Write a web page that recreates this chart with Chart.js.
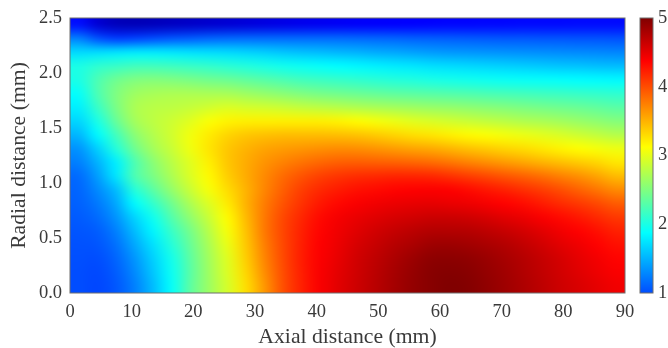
<!DOCTYPE html>
<html lang="en">
<head>
<meta charset="utf-8">
<title>Axial and radial distance map</title>
<script src="https://cdn.jsdelivr.net/npm/chart.js"></script>
<style>
  html, body { margin: 0; padding: 0; background: #fff; }
  canvas { display: block; }
</style>
</head>
<body>
<canvas id="myChart" width="668" height="348"></canvas>
<script>
// cell centres
var axial = [1.5,4.5,7.5,10.5,13.5,16.5,19.5,22.5,25.5,28.5,31.5,34.5,37.5,40.5,43.5,46.5,49.5,52.5,55.5,58.5,61.5,64.5,67.5,70.5,73.5,76.5,79.5,82.5,85.5,88.5];
var radial = [2.4375,2.3125,2.1875,2.0625,1.9375,1.8125,1.6875,1.5625,1.4375,1.3125,1.1875,1.0625,0.9375,0.8125,0.6875,0.5625,0.4375,0.3125,0.1875,0.0625];

// one row per radial distance, top of the plot first
var r2438 = [.70,.42,.30,.28,.30,.33,.36,.39,.42,.45,.48,.51,.54,.56,.58,.60,.61,.62,.63,.64,.65,.65,.66,.66,.67,.67,.67,.68,.68,.68];
var r2313 = [1.25,1.02,.92,.95,1.00,1.05,1.08,1.12,1.14,1.15,1.15,1.15,1.15,1.15,1.15,1.14,1.13,1.12,1.10,1.09,1.08,1.07,1.06,1.05,1.05,1.04,1.04,1.03,1.03,1.02];
var r2188 = [1.70,1.72,1.75,1.78,1.78,1.76,1.74,1.72,1.70,1.67,1.64,1.60,1.57,1.55,1.52,1.50,1.47,1.45,1.42,1.39,1.37,1.36,1.35,1.34,1.33,1.32,1.31,1.30,1.29,1.28];
var r2063 = [2.00,2.10,2.15,2.20,2.20,2.18,2.15,2.12,2.08,2.04,2.00,1.96,1.93,1.90,1.87,1.84,1.81,1.78,1.76,1.73,1.71,1.69,1.67,1.65,1.63,1.61,1.59,1.58,1.56,1.55];
var r1938 = [2.00,2.25,2.42,2.50,2.52,2.50,2.47,2.43,2.40,2.35,2.30,2.25,2.20,2.17,2.14,2.11,2.08,2.05,2.03,2.00,1.98,1.96,1.94,1.92,1.91,1.90,1.89,1.87,1.86,1.85];
var r1813 = [1.90,2.25,2.50,2.65,2.70,2.72,2.72,2.71,2.70,2.65,2.60,2.55,2.50,2.46,2.43,2.40,2.37,2.34,2.32,2.30,2.28,2.26,2.24,2.22,2.20,2.18,2.16,2.14,2.12,2.10];
var r1688 = [1.80,2.15,2.48,2.72,2.78,2.80,2.84,2.90,2.95,2.92,2.90,2.87,2.83,2.80,2.77,2.74,2.71,2.68,2.65,2.62,2.60,2.57,2.54,2.51,2.48,2.45,2.42,2.39,2.35,2.31];
var r1563 = [1.68,2.00,2.38,2.68,2.80,2.88,2.98,3.10,3.18,3.20,3.20,3.20,3.20,3.20,3.18,3.14,3.08,3.03,2.98,2.94,2.90,2.86,2.82,2.78,2.74,2.71,2.67,2.62,2.57,2.52];
var r1438 = [1.52,1.85,2.20,2.55,2.75,2.90,3.06,3.22,3.33,3.40,3.43,3.45,3.45,3.45,3.44,3.42,3.38,3.33,3.28,3.25,3.20,3.15,3.11,3.07,3.03,2.99,2.94,2.88,2.82,2.76];
var r1313 = [1.35,1.65,2.05,2.42,2.68,2.86,3.05,3.25,3.40,3.50,3.57,3.61,3.64,3.67,3.69,3.68,3.65,3.61,3.57,3.54,3.49,3.43,3.38,3.33,3.29,3.24,3.18,3.13,3.08,3.04];
var r1188 = [1.25,1.50,1.80,2.25,2.55,2.78,2.98,3.20,3.40,3.53,3.65,3.74,3.81,3.87,3.91,3.92,3.91,3.90,3.88,3.85,3.80,3.74,3.68,3.62,3.56,3.50,3.44,3.38,3.32,3.24];
var r1063 = [1.15,1.40,1.75,2.25,2.48,2.72,2.95,3.15,3.36,3.53,3.70,3.85,3.97,4.06,4.12,4.16,4.18,4.20,4.20,4.19,4.14,4.08,4.02,3.96,3.90,3.83,3.75,3.67,3.57,3.46];
var r0938 = [1.12,1.30,1.55,2.05,2.32,2.60,2.86,3.08,3.29,3.50,3.72,3.91,4.07,4.18,4.25,4.30,4.33,4.36,4.38,4.39,4.38,4.33,4.27,4.22,4.15,4.08,4.00,3.90,3.80,3.70];
var r0813 = [1.10,1.22,1.45,1.85,2.12,2.42,2.72,2.96,3.22,3.50,3.76,3.97,4.13,4.26,4.34,4.40,4.44,4.47,4.49,4.50,4.48,4.46,4.42,4.37,4.32,4.25,4.17,4.10,4.02,3.93];
var r0688 = [1.07,1.15,1.35,1.67,1.95,2.28,2.58,2.86,3.14,3.46,3.78,4.02,4.19,4.33,4.42,4.48,4.53,4.57,4.60,4.63,4.63,4.61,4.57,4.52,4.47,4.40,4.33,4.26,4.18,4.10];
var r0563 = [1.04,1.08,1.25,1.55,1.83,2.15,2.45,2.77,3.08,3.42,3.78,4.03,4.22,4.36,4.45,4.53,4.60,4.66,4.71,4.75,4.75,4.74,4.70,4.65,4.59,4.52,4.44,4.37,4.30,4.22];
var r0438 = [1.02,1.04,1.18,1.45,1.73,2.05,2.38,2.71,3.02,3.39,3.75,4.02,4.23,4.38,4.47,4.57,4.65,4.73,4.79,4.85,4.86,4.84,4.80,4.75,4.68,4.60,4.52,4.45,4.37,4.30];
var r0313 = [1.01,1.00,1.12,1.36,1.65,1.97,2.33,2.67,2.97,3.36,3.72,4.01,4.24,4.39,4.49,4.60,4.69,4.78,4.86,4.93,4.94,4.92,4.87,4.81,4.74,4.66,4.58,4.50,4.43,4.36];
var r0188 = [1.00,.98,1.08,1.30,1.60,1.93,2.31,2.65,2.95,3.32,3.68,4.00,4.23,4.40,4.51,4.61,4.71,4.81,4.89,4.96,4.98,4.96,4.90,4.84,4.76,4.68,4.60,4.53,4.46,4.40];
var r0063 = [1.00,.97,1.05,1.25,1.55,1.90,2.33,2.64,2.92,3.28,3.63,3.99,4.22,4.40,4.52,4.62,4.72,4.82,4.90,4.96,5.00,4.98,4.92,4.85,4.78,4.70,4.62,4.56,4.50,4.44];
var rows = [r2438,r2313,r2188,r2063,r1938,r1813,r1688,r1563,r1438,r1313,r1188,r1063,r0938,r0813,r0688,r0563,r0438,r0313,r0188,r0063];

// jet over 0..5
var jetValues = [0, 0.625, 1.875, 3.125, 4.375, 5];
var jetColors = [[0,0,128],[0,0,255],[0,255,255],[255,255,0],[255,0,0],[128,0,0]];

function jet(v) {
  var i = 0;
  while (i < jetValues.length - 2 && v > jetValues[i + 1]) i++;
  var t = Math.min(1, Math.max(0, (v - jetValues[i]) / (jetValues[i + 1] - jetValues[i])));
  var a = jetColors[i], b = jetColors[i + 1];
  return 'rgb(' + Math.round(a[0] + (b[0] - a[0]) * t) + ',' + Math.round(a[1] + (b[1] - a[1]) * t) + ',' + Math.round(a[2] + (b[2] - a[2]) * t) + ')';
}

var cells = [], cellColors = [];
rows.forEach(function (row, r) {
  row.forEach(function (v, c) {
    cells.push({ x: axial[c], y: radial[r] });
    cellColors.push(jet(v));
  });
});

var textColor = '#3a3a3a';
var frameColor = '#6e6e6e';
var font = { family: '"Liberation Serif", serif', size: 18.5 };
var titleFont = { family: '"Liberation Serif", serif', size: 21.7 };

// soften the blocky cells and add the colour bar
var heatSmooth = {
  id: 'heatSmooth',
  afterDatasetsDraw: function (chart) {
    var ctx = chart.ctx, x = chart.scales.x, y = chart.scales.y, bar = chart.scales.y1;
    var left = x.getPixelForValue(0), right = x.getPixelForValue(90);
    var top = y.getPixelForValue(2.5), bottom = y.getPixelForValue(0);

    var off = document.createElement('canvas');
    off.width = axial.length;
    off.height = radial.length;
    var o = off.getContext('2d');
    rows.forEach(function (row, r) {
      row.forEach(function (v, c) {
        o.fillStyle = jet(v);
        o.fillRect(c, r, 1, 1);
      });
    });
    ctx.save();
    ctx.imageSmoothingEnabled = true;
    ctx.imageSmoothingQuality = 'high';
    ctx.drawImage(off, left, top, right - left, bottom - top);
    ctx.strokeStyle = frameColor;
    ctx.lineWidth = 1;
    ctx.strokeRect(left, top, right - left, bottom - top);

    var barTop = bar.getPixelForValue(5), barBottom = bar.getPixelForValue(1);
    var grad = ctx.createLinearGradient(0, barBottom, 0, barTop);
    jetValues.forEach(function (v) {
      if (v >= 1) grad.addColorStop((v - 1) / 4, jet(v));
    });
    grad.addColorStop(0, jet(1));
    ctx.fillStyle = grad;
    ctx.fillRect(640, barTop, 13, barBottom - barTop);
    ctx.strokeRect(640, barTop, 13, barBottom - barTop);
    ctx.restore();
  }
};

function noPadding(s) {
  s.paddingTop = 0;
  s.paddingBottom = 0;
  s.paddingLeft = 0;
  s.paddingRight = 0;
}

var ctx = document.getElementById('myChart').getContext('2d');
var myChart = new Chart(ctx, {
  type: 'scatter',
  data: {
    datasets: [{
      data: cells,
      pointStyle: 'rect',
      pointRadius: 15,
      pointBorderWidth: 0,
      pointBackgroundColor: cellColors
    }]
  },
  options: {
    responsive: false,
    animation: false,
    layout: { padding: { top: 18 } },
    plugins: { legend: { display: false }, tooltip: { enabled: false } },
    scales: {
      x: {
        type: 'linear', min: 0, max: 90,
        grid: { display: false },
        border: { display: false },
        ticks: { stepSize: 10, color: textColor, font: font, padding: 0, maxRotation: 0 },
        title: { display: true, text: 'Axial distance (mm)', color: textColor, font: titleFont, padding: { top: 0, bottom: -2 } },
        afterFit: function (s) { noPadding(s); s.height = 55; }
      },
      y: {
        type: 'linear', min: 0, max: 2.5,
        grid: { display: false },
        border: { display: false },
        ticks: { stepSize: 0.5, color: textColor, font: font, padding: 0, callback: function (v) { return v.toFixed(1); } },
        title: { display: true, text: 'Radial distance (mm)', color: textColor, font: titleFont, padding: { top: 6, bottom: 0 } },
        afterFit: function (s) { noPadding(s); s.width = 70; }
      },
      y1: {
        type: 'linear', position: 'right', min: 1, max: 5,
        grid: { display: false },
        border: { display: false },
        ticks: { stepSize: 1, color: textColor, font: font, padding: 25 },
        afterFit: function (s) { noPadding(s); s.width = 43; }
      }
    }
  },
  plugins: [heatSmooth]
});
</script>
</body>
</html>
